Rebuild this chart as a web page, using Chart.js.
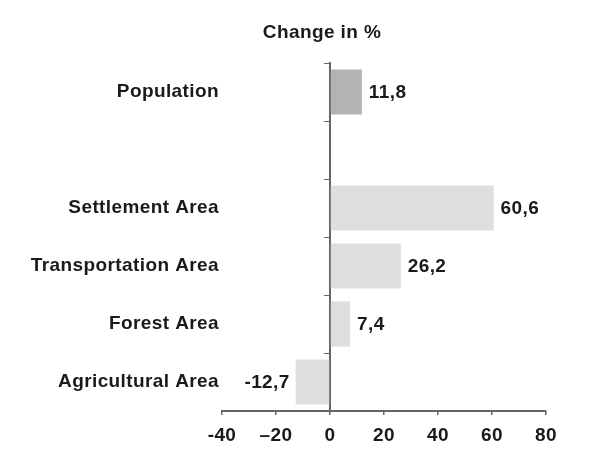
<!DOCTYPE html>
<html>
<head>
<meta charset="utf-8">
<script src="https://cdn.jsdelivr.net/npm/chart.js@4/dist/chart.umd.min.js"></script>
<style>
  html, body { margin: 0; padding: 0; background: #ffffff; }
  #wrap { width: 595px; height: 468px; }
</style>
</head>
<body>
<div id="wrap"><canvas id="chart"></canvas></div>
<script>
// Land use and population change, in percent
const categories = ['Population', '', 'Settlement Area', 'Transportation Area', 'Forest Area', 'Agricultural Area'];
const changePct = [11.8, null, 60.6, 26.2, 7.4, -12.7];
const xTickValues = [-40, -20, 0, 20, 40, 60, 80];
const xTickLabels = ['-40', '\u201320', '0', '20', '40', '60', '80'];
const chartTitle = 'Change in %';
const highlighted = 'Population';

const FONT = { family: '"Liberation Sans", Arial, Helvetica, sans-serif', size: 19, weight: 'bold' };
const TEXT = '#1a1a1a';
const AXIS = '#666666';
const SPACING = '0.4px';

const fmt = v => v.toFixed(1).replace('.', ',');

// slightly wider text spacing for all canvas text
const spacing = {
  id: 'spacing',
  beforeUpdate(chart) { chart.ctx.letterSpacing = SPACING; },
  beforeLayout(chart) { chart.ctx.letterSpacing = SPACING; },
  beforeDraw(chart) { chart.ctx.letterSpacing = SPACING; }
};

// value labels beside each bar, plus the heading over the zero line
const annotations = {
  id: 'annotations',
  afterDatasetsDraw(chart) {
    const ctx = chart.ctx;
    ctx.save();
    ctx.letterSpacing = SPACING;
    ctx.font = `${FONT.weight} ${FONT.size}px ${FONT.family}`;
    ctx.fillStyle = TEXT;
    ctx.textBaseline = 'middle';
    const meta = chart.getDatasetMeta(0);
    meta.data.forEach((bar, i) => {
      const v = changePct[i];
      if (v === null || v === undefined) return;
      if (v >= 0) {
        ctx.textAlign = 'left';
        ctx.fillText(fmt(v), bar.x + 7, bar.y + 1);
      } else {
        ctx.textAlign = 'right';
        ctx.fillText(fmt(v), bar.x - 6, bar.y + 1);
      }
    });
    const xs = chart.scales.x;
    ctx.textAlign = 'center';
    ctx.fillText(chartTitle, xs.getPixelForValue(0) - 8, chart.chartArea.top - 30);
    ctx.restore();
  }
};

new Chart(document.getElementById('chart'), {
  type: 'bar',
  data: {
    labels: categories,
    datasets: [{
      data: changePct,
      backgroundColor: categories.map(c => c === highlighted ? '#b3b3b3' : '#dedede'),
      borderWidth: 0,
      barPercentage: 0.78,
      categoryPercentage: 1.0
    }]
  },
  options: {
    indexAxis: 'y',
    responsive: true,
    maintainAspectRatio: false,
    animation: false,
    devicePixelRatio: 1,
    layout: { padding: { top: 63, right: 49, bottom: 0, left: 0 } },
    plugins: {
      legend: { display: false },
      tooltip: { enabled: false },
      title: { display: false }
    },
    scales: {
      x: {
        type: 'linear',
        min: -40,
        max: 80,
        afterBuildTicks: s => { s.ticks = xTickValues.map(v => ({ value: v })); },
        afterFit: s => { s.height = 57; },
        ticks: {
          font: FONT,
          color: TEXT,
          padding: 9,
          maxRotation: 0,
          callback: v => xTickLabels[xTickValues.indexOf(v)]
        },
        grid: { drawOnChartArea: false, drawTicks: true, tickLength: 4, color: AXIS, lineWidth: 1.5 },
        border: { display: true, color: AXIS, width: 2 }
      },
      y: {
        type: 'category',
        position: 'left',
        afterFit: s => { s.width = 222; },
        ticks: { font: FONT, color: TEXT, padding: 3 },
        grid: { display: false, drawTicks: false },
        border: { display: false }
      },
      zero: {
        type: 'category',
        axis: 'y',
        position: { x: 0 },
        offset: true,
        z: 1,
        ticks: { display: false },
        grid: { offset: true, drawOnChartArea: false, drawTicks: true, tickLength: 5, color: AXIS, lineWidth: 1 },
        border: { display: true, color: AXIS, width: 2 }
      }
    }
  },
  plugins: [spacing, annotations]
});
</script>
</body>
</html>
